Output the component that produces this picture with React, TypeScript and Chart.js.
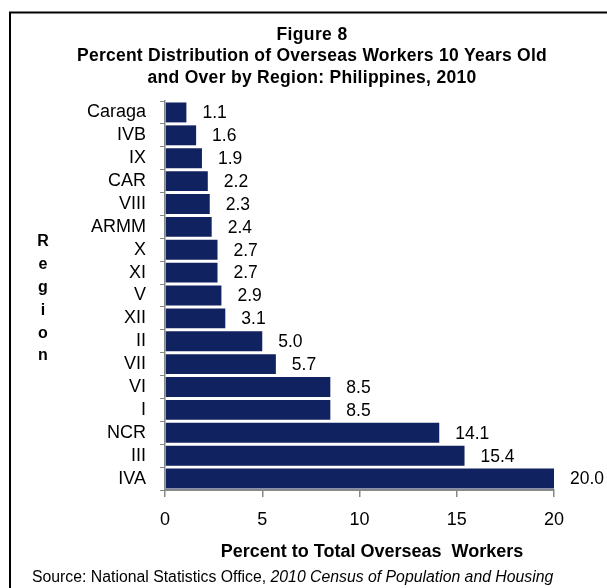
import { useEffect, useRef } from 'react';
import { Chart, registerables } from 'chart.js';

Chart.register(...registerables);

const regions = ['Caraga', 'IVB', 'IX', 'CAR', 'VIII', 'ARMM', 'X', 'XI', 'V', 'XII', 'II', 'VII', 'VI', 'I', 'NCR', 'III', 'IVA'];
const percents = [1.1, 1.6, 1.9, 2.2, 2.3, 2.4, 2.7, 2.7, 2.9, 3.1, 5.0, 5.7, 8.5, 8.5, 14.1, 15.4, 20.0];
const xMin = 0;
const xMax = 20;
const xStep = 5;
const titleLines = ['Figure 8', 'Percent Distribution of Overseas Workers 10 Years Old', 'and Over by Region: Philippines, 2010'];
const xTitle = 'Percent to Total Overseas  Workers';
const yTitle = 'Region';
const sourcePlain = 'Source: National Statistics Office, ';
const sourceItalic = '2010 Census of Population and Housing';

const FONT = "'Liberation Sans', Arial, sans-serif";
const BAR = '#10225F';

const decorPlugin = {
  id: 'decor',
  afterDraw(chart: any) {
    const ctx = chart.ctx as CanvasRenderingContext2D;
    ctx.save();
    // frame
    ctx.strokeStyle = '#000';
    ctx.lineWidth = 2;
    ctx.beginPath();
    ctx.moveTo(10, 600);
    ctx.lineTo(10, 12.5);
    ctx.lineTo(620, 12.5);
    ctx.stroke();

    // title
    ctx.fillStyle = '#000';
    ctx.textAlign = 'center';
    ctx.textBaseline = 'alphabetic';
    ctx.font = `bold 17.5px ${FONT}`;
    const baselines = [40, 61, 82.5];
    const targets = [71, 470, 329];
    titleLines.forEach((line, i) => {
      (ctx as any).letterSpacing = '0px';
      const w = ctx.measureText(line).width;
      const ls = (targets[i] - w) / Math.max(1, line.length);
      (ctx as any).letterSpacing = `${ls}px`;
      ctx.fillText(line, 312, baselines[i]);
    });
    (ctx as any).letterSpacing = '0px';

    // y title stacked
    ctx.font = `bold 16px ${FONT}`;
    ctx.textAlign = 'center';
    ctx.textBaseline = 'middle';
    yTitle.split('').forEach((ch, i) => {
      ctx.fillText(ch, 43, 242 + i * 22.8);
    });

    // x title
    ctx.font = `bold 18px ${FONT}`;
    ctx.textAlign = 'center';
    ctx.fillText(xTitle, 372, 552);

    // source
    ctx.textAlign = 'left';
    ctx.font = `15.8px ${FONT}`;
    const sx = 32;
    ctx.fillText(sourcePlain, sx, 578);
    const pw = ctx.measureText(sourcePlain).width;
    ctx.font = `italic 15.8px ${FONT}`;
    ctx.fillText(sourceItalic, sx + pw, 578);

    // data labels
    ctx.font = `17.5px ${FONT}`;
    ctx.textAlign = 'left';
    ctx.textBaseline = 'middle';
    const meta = chart.getDatasetMeta(0);
    meta.data.forEach((el: any, i: number) => {
      ctx.fillText(percents[i].toFixed(1), el.x + 16, el.y + 1);
    });
    ctx.restore();
  },
};

export default function App() {
  const ref = useRef<HTMLCanvasElement | null>(null);
  useEffect(() => {
    if (!ref.current) return;
    const chart = new Chart(ref.current, {
      type: 'bar',
      data: {
        labels: regions,
        datasets: [
          {
            data: percents,
            backgroundColor: BAR,
            borderWidth: 0,
            barPercentage: 0.87,
            categoryPercentage: 1,
          },
        ],
      },
      options: {
        indexAxis: 'y',
        responsive: false,
        animation: false,
        layout: { padding: { top: 101, right: 53, left: 0, bottom: 0 } },
        plugins: { legend: { display: false }, tooltip: { enabled: false }, title: { display: false } },
        scales: {
          x: {
            min: xMin,
            max: xMax,
            ticks: { stepSize: xStep, color: '#000', font: { family: FONT, size: 18 }, padding: 12 },
            grid: { drawOnChartArea: false, drawTicks: true, tickLength: 7, color: '#888', lineWidth: 1.5 },
            border: { color: '#888', width: 2 },
            afterFit: (s: any) => {
              s.height = 98;
            },
          },
          y: {
            ticks: { color: '#000', font: { family: FONT, size: 18 }, padding: 14, autoSkip: false },
            grid: { drawOnChartArea: false, drawTicks: true, tickLength: 5, color: '#888', offset: true },
            border: { color: '#888', width: 1.5 },
            afterFit: (s: any) => {
              s.width = 165;
            },
          },
        },
      },
      plugins: [decorPlugin],
    });
    return () => chart.destroy();
  }, []);
  return (
    <div style={{ position: 'absolute', left: 0, top: 0, width: 607, height: 588, background: '#fff' }}>
      <canvas ref={ref} width={607} height={588} style={{ display: 'block', width: 607, height: 588 }} />
    </div>
  );
}
